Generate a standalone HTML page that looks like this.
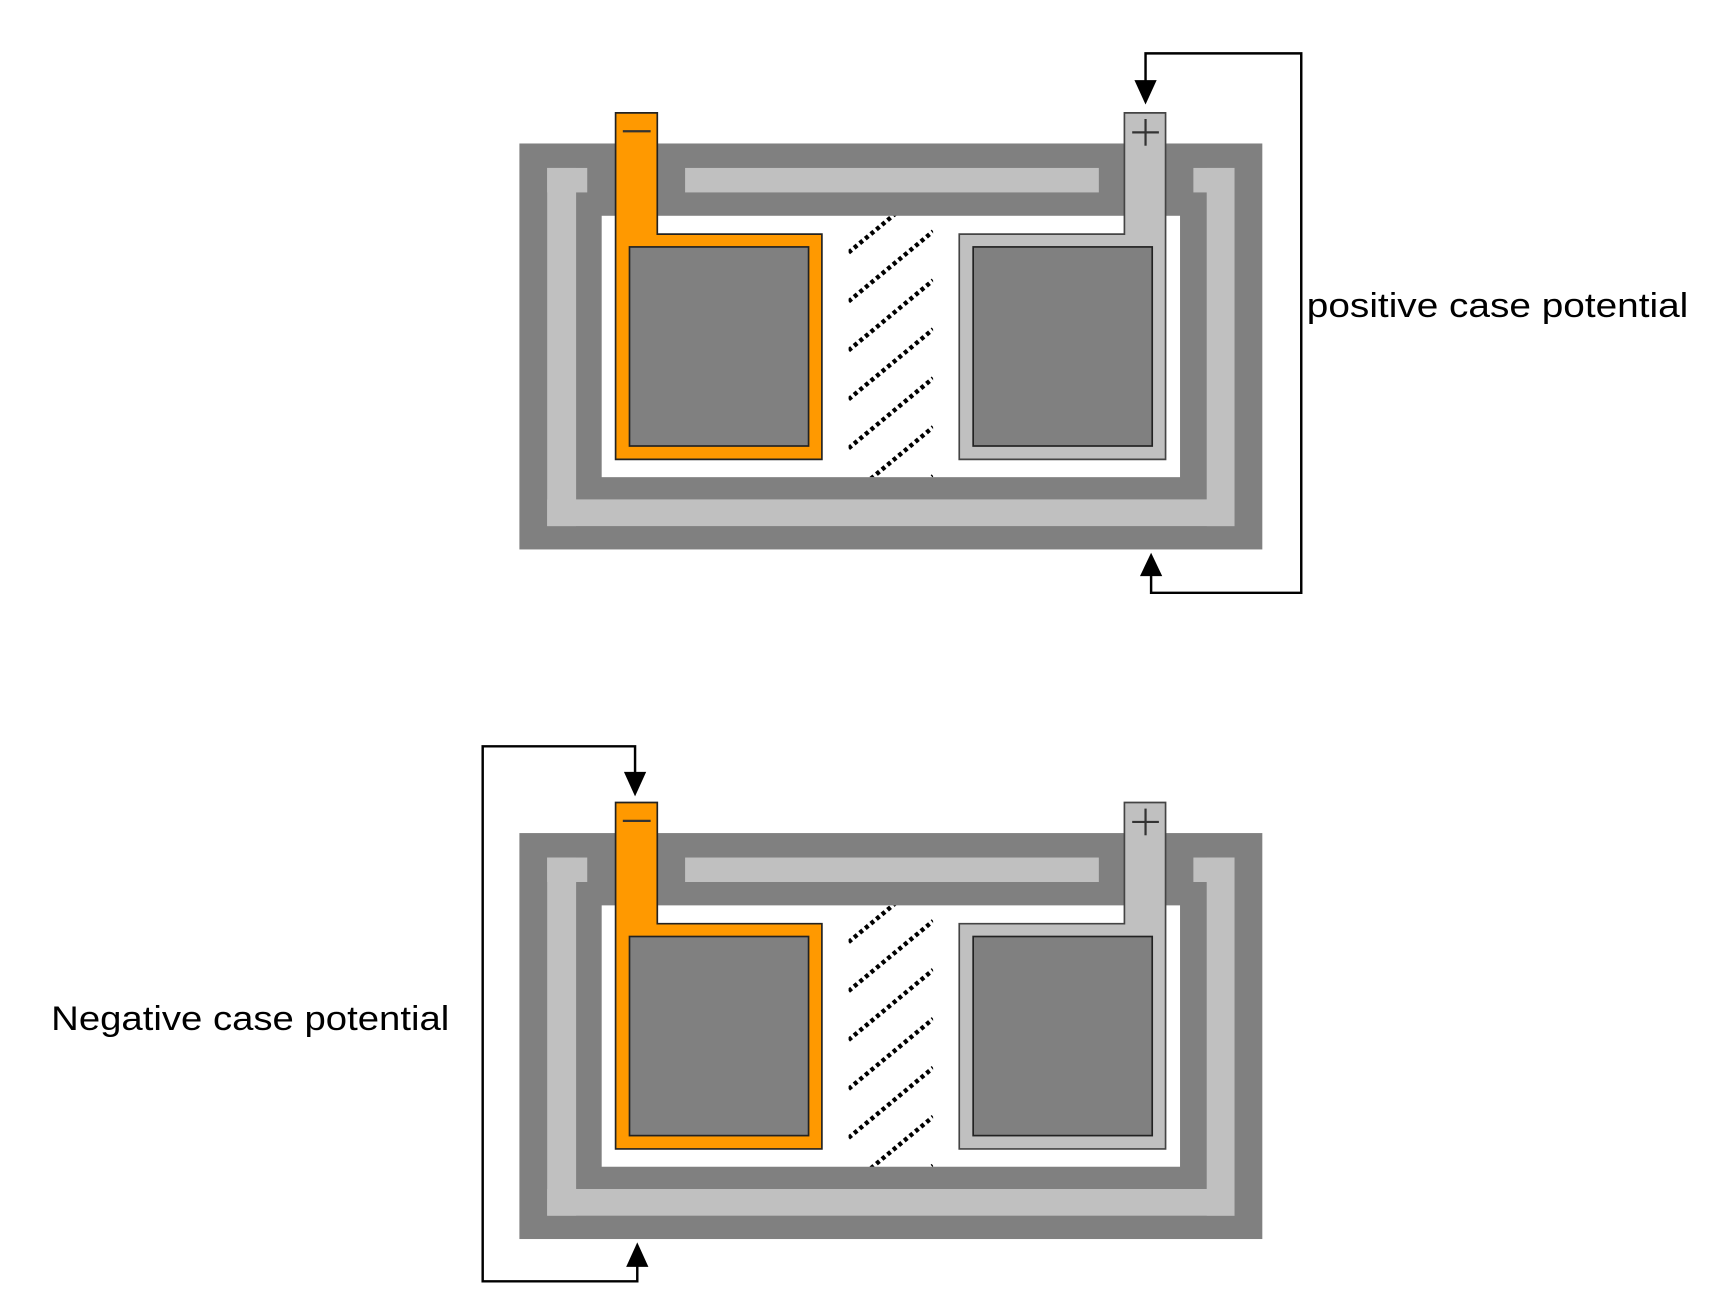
<!DOCTYPE html>
<html><head><meta charset="utf-8"><style>html,body{margin:0;padding:0;background:#fff}svg{display:block}</style></head>
<body>
<svg width="1735" height="1308" viewBox="0 0 1560 1176" preserveAspectRatio="none" xmlns="http://www.w3.org/2000/svg">
<defs>
<clipPath id="hc"><rect x="763" y="194" width="76" height="235"/></clipPath>
<g id="bat">
  <rect x="467" y="129" width="668" height="365" fill="#808080"/>
  <rect x="492" y="151" width="26" height="322" fill="#c0c0c0"/>
  <rect x="492" y="151" width="36" height="22" fill="#c0c0c0"/>
  <rect x="492" y="449" width="618" height="24" fill="#c0c0c0"/>
  <rect x="1085" y="151" width="25" height="322" fill="#c0c0c0"/>
  <rect x="1073" y="151" width="37" height="22" fill="#c0c0c0"/>
  <rect x="616" y="151" width="372" height="22" fill="#c0c0c0"/>
  <rect x="541" y="194" width="520" height="235" fill="#fff"/>
  <g clip-path="url(#hc)" stroke="#000" stroke-width="4" stroke-dasharray="3.5 3">
    <line x1="763" y1="183" x2="839" y2="120"/>
    <line x1="763" y1="227" x2="839" y2="164"/>
    <line x1="763" y1="271" x2="839" y2="208"/>
    <line x1="763" y1="315" x2="839" y2="252"/>
    <line x1="763" y1="359" x2="839" y2="296"/>
    <line x1="763" y1="403" x2="839" y2="340"/>
    <line x1="763" y1="447" x2="839" y2="384"/>
    <line x1="763" y1="491" x2="839" y2="428"/>
  </g>
  <path d="M553.5 101.5 H591 V210.5 H739 V413 H553.5 Z" fill="#ff9900" stroke="#222" stroke-width="1.5"/>
  <rect x="566" y="222" width="161" height="179" fill="#808080" stroke="#222" stroke-width="1.5"/>
  <line x1="560" y1="118" x2="585" y2="118" stroke="#333" stroke-width="2"/>
  <path d="M1011 101.5 H1048 V413 H862.5 V210.5 H1011 Z" fill="#c0c0c0" stroke="#444" stroke-width="1.5"/>
  <rect x="875" y="222" width="161" height="179" fill="#808080" stroke="#222" stroke-width="1.5"/>
  <line x1="1018" y1="119" x2="1042" y2="119" stroke="#333" stroke-width="2"/>
  <line x1="1030" y1="107" x2="1030" y2="131" stroke="#333" stroke-width="2"/>
</g>
</defs>
<use href="#bat"/>
<use href="#bat" transform="translate(0,620)"/>
<g fill="none" stroke="#000" stroke-width="2.2">
  <path d="M1030 75 V48 H1170 V533 H1035 V515"/>
  <path d="M571 697 V671 H434 V1152 H573 V1136"/>
</g>
<g fill="#000">
  <path d="M1020 72 H1040 L1030 94 Z"/>
  <path d="M1025 518 H1045 L1035 497 Z"/>
  <path d="M561 694 H581 L571 716 Z"/>
  <path d="M563 1139 H583 L573 1117 Z"/>
</g>
<g font-family="Liberation Sans, sans-serif" font-size="31" fill="#000">
  <text x="1175" y="285" textLength="343" lengthAdjust="spacingAndGlyphs">positive case potential</text>
  <text x="46" y="926" textLength="358" lengthAdjust="spacingAndGlyphs">Negative case potential</text>
</g>
</svg>
</body></html>
